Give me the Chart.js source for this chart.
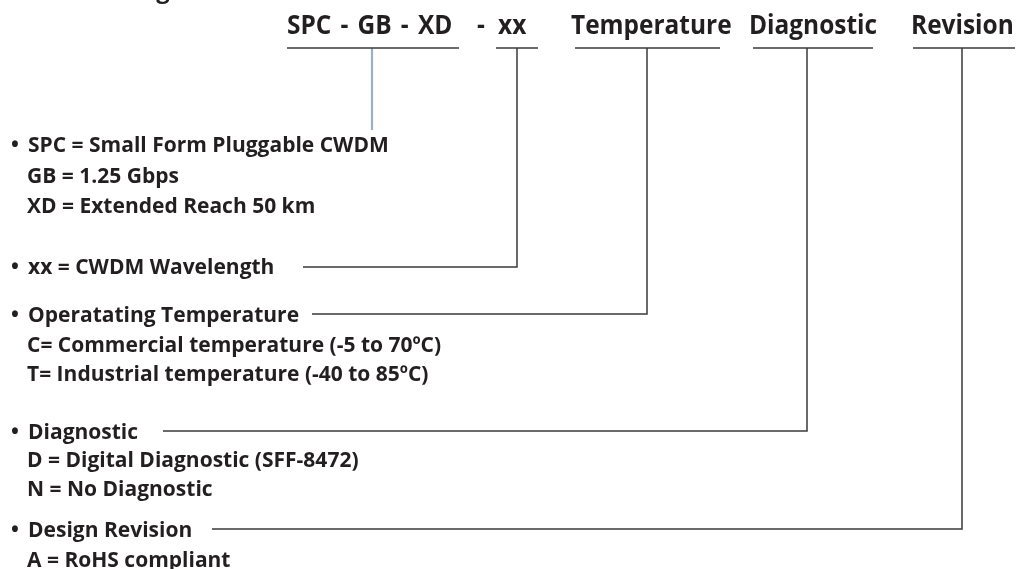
<!DOCTYPE html>
<html>
<head>
<meta charset="utf-8">
<script src="https://cdn.jsdelivr.net/npm/chart.js@4"></script>
<style>
  html, body { margin: 0; padding: 0; background: #fff; }
  #wrap { width: 1016px; height: 569px; }
</style>
</head>
<body>
<div id="wrap"><canvas id="diagram" width="1016" height="569"></canvas></div>
<script>
// --- Data ---
const headerLabels = ['SPC - GB - XD', '-', 'xx', 'Temperature', 'Diagnostic', 'Revision'];

// underline under each field: start / end
const underlineStart = [287, 496, 575, 753, 913];
const underlineEnd = [459, 538, 720, 873, 1015];

// vertical stem of each field, and where the leader line turns left
const stemX = [372, 517, 647, 807, 962];
const stemEndY = [130, 267, 314, 431, 529];
const leaderStartX = [null, 303, 312, 163, 212];

const bulletLines = [
    'SPC = Small Form Pluggable CWDM',
    'xx = CWDM Wavelength',
    'Operatating Temperature',
    'Diagnostic',
    'Design Revision'
];
const subLines = [
    ['GB = 1.25 Gbps', 'XD = Extended Reach 50 km'],
    [],
    ['C= Commercial temperature (-5 to 70ºC)', 'T= Industrial temperature (-40 to 85ºC)'],
    ['D = Digital Diagnostic (SFF-8472)', 'N = No Diagnostic'],
    ['A = RoHS compliant']
];

// --- Layout ---
const headerX = [287, 477, 498, 571, 749, 911];
const headerBaseline = 34;
const headerSquash = 0.94;
const underlineY = 48;
const bulletBaseline = [152, 274, 322, 439, 537];
const subBaseline = [[183, 213], [], [352, 381], [467, 496], [567]];
const textColor = '#231f20';
const lineColor = '#3a3a3a';
const stemGray = '#9eafbd';

// --- Build line datasets ---
const datasets = [];
underlineStart.forEach((x0, i) => {
    datasets.push({
        data: [{ x: x0, y: underlineY }, { x: underlineEnd[i], y: underlineY }],
        borderColor: lineColor, borderWidth: 1.5
    });
});
stemX.forEach((x, i) => {
    const pts = [{ x: x, y: underlineY }, { x: x, y: stemEndY[i] }];
    if (leaderStartX[i] !== null) pts.push({ x: leaderStartX[i], y: stemEndY[i] });
    datasets.push({
        data: pts,
        borderColor: i === 0 ? stemGray : lineColor,
        borderWidth: i === 0 ? 2.2 : 1.5
    });
});
datasets.forEach(d => {
    d.showLine = true;
    d.pointRadius = 0;
    d.fill = false;
    d.clip = false;
    d.tension = 0;
    d.borderJoinStyle = 'miter';
});

// --- Text plugin ---
const textPlugin = {
    id: 'diagramText',
    afterDatasetsDraw(chart) {
        const ctx = chart.ctx;
        const sx = v => chart.scales.x.getPixelForValue(v);
        const sy = v => chart.scales.y.getPixelForValue(v);
        ctx.save();
        ctx.fillStyle = textColor;
        ctx.textBaseline = 'alphabetic';
        ctx.textAlign = 'left';

        // cropped title at the very top
        ctx.font = 'bold 24px "Open Sans"';
        ctx.fillText('Ordering Information', sx(63), sy(-2));

        // header row, slightly condensed
        ctx.font = 'bold 26px "Open Sans"';
        headerLabels.forEach((t, i) => {
            ctx.save();
            ctx.translate(sx(headerX[i]), sy(headerBaseline));
            ctx.scale(headerSquash, 1);
            if (i === 0) ctx.wordSpacing = '3px';
            ctx.fillText(t, 0, 0);
            ctx.restore();
        });

        ctx.font = 'bold 21px "Open Sans"';
        bulletLines.forEach((t, i) => {
            ctx.fillText('•', sx(11), sy(bulletBaseline[i]));
            ctx.fillText(t, sx(28), sy(bulletBaseline[i]));
            subLines[i].forEach((s, j) => ctx.fillText(s, sx(27), sy(subBaseline[i][j])));
        });
        ctx.restore();
    }
};

new Chart(document.getElementById('diagram'), {
    type: 'scatter',
    data: { datasets },
    options: {
        responsive: false,
        animation: false,
        layout: { padding: 0 },
        plugins: { legend: { display: false }, tooltip: { enabled: false } },
        scales: {
            x: { type: 'linear', min: 0, max: 1016, display: false },
            y: { type: 'linear', min: 0, max: 569, reverse: true, display: false }
        }
    },
    plugins: [textPlugin]
});
</script>
</body>
</html>
